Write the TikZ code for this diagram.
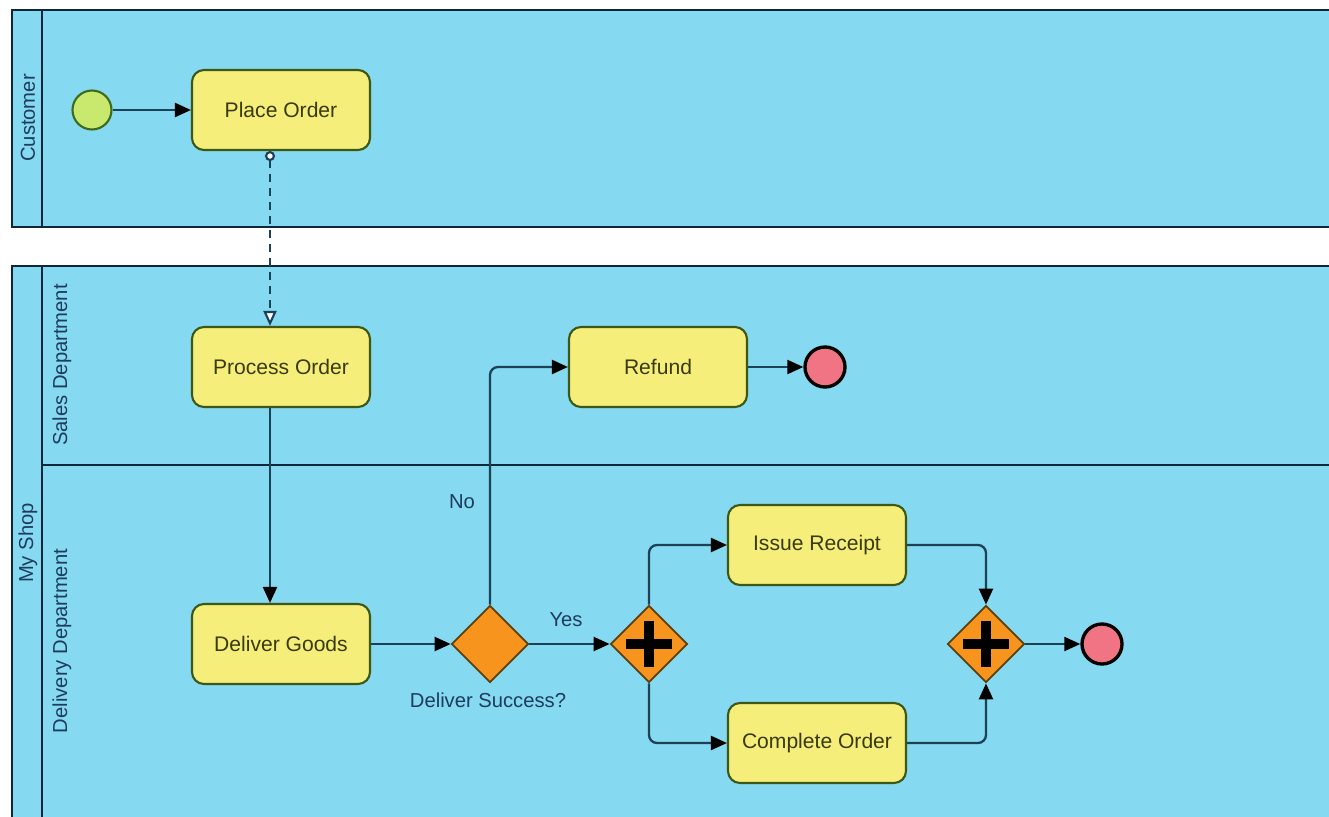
\documentclass[tikz,border=0pt]{standalone}
\usepackage{fontspec}
\setmainfont{Liberation Sans}
\usetikzlibrary{arrows.meta, positioning, calc, shapes.geometric}
\definecolor{poolc}{HTML}{85D9F0}
\definecolor{poolline}{HTML}{10263A}
\definecolor{taskc}{HTML}{F5EE7A}
\definecolor{taskline}{HTML}{3D5716}
\definecolor{gatec}{HTML}{F7941E}
\definecolor{gateline}{HTML}{5C4010}
\definecolor{startc}{HTML}{C8E86E}
\definecolor{startline}{HTML}{3E6A1C}
\definecolor{endc}{HTML}{F07484}
\definecolor{flowc}{HTML}{1C4258}
\definecolor{labc}{HTML}{1E3C5C}
\definecolor{txtc}{HTML}{3A3A0A}
\tikzset{
  pool/.style={draw=poolline, fill=poolc, line width=1.4pt},
  lane/.style={draw=poolline, line width=1.4pt},
  lname/.style={rotate=90, text=labc, font=\fontsize{11.5}{13}\selectfont},
  task/.style={draw=taskline, fill=taskc, line width=1.2pt, rounded corners=0.24cm,
               minimum width=3.56cm, minimum height=1.6cm, text=txtc,
               font=\fontsize{12}{14}\selectfont},
  gate/.style={diamond, aspect=1, draw=gateline, fill=gatec, line width=1pt,
               minimum width=1.54cm, minimum height=1.54cm, inner sep=0pt},
  pargate/.style={gate, path picture={
      \draw[black, line width=0.21cm] (path picture bounding box.center) ++(-0.46,0) -- ++(0.92,0)
        (path picture bounding box.center) ++(0,-0.46) -- ++(0,0.92);}},
  startev/.style={circle, draw=startline, fill=startc, line width=1.2pt, minimum size=0.78cm, inner sep=0pt},
  endev/.style={circle, draw=black, fill=endc, line width=1.9pt, minimum size=0.8cm, inner sep=0pt},
  flow/.style={draw=flowc, line width=1.3pt, rounded corners=0.16cm,
               -{Triangle[length=0.32cm, width=0.28cm, color=black]}},
  msg/.style={draw=flowc, line width=1.2pt, dash pattern=on 0.16cm off 0.12cm,
              {Circle[length=0.2cm, fill=white]}-{Triangle[length=0.3cm, width=0.26cm, fill=white]}},
  flab/.style={text=labc, font=\fontsize{11.5}{13}\selectfont},
}

\begin{document}
\begin{tikzpicture}[x=1cm, y=1cm]
  \useasboundingbox (0,0) rectangle (26.58,-16.34);
  \fill[white] (0,0) rectangle (26.58,-16.34);

  % ---------------- pools and lanes ----------------
  \draw[pool] (0.24,-0.2) rectangle (27,-4.54);
  \draw[lane] (0.84,-0.2) -- (0.84,-4.54);
  \draw[pool] (0.24,-5.32) rectangle (27,-16.8);
  \draw[lane] (0.84,-5.32) -- (0.84,-16.8);
  \draw[lane] (0.84,-9.3) -- (27,-9.3);
  \foreach \n/\x/\y/\t in {lcust/0.56/-2.36/Customer, lshop/0.56/-10.86/My Shop,
                           lsales/1.24/-7.3/Sales Department, ldeliv/1.24/-12.82/Delivery Department}
    \node[lname] (\n) at (\x,\y) {\t};

  % ---------------- events, tasks, gateways ----------------
  \node[startev] (start) at (1.84,-2.2) {};
  \foreach \n/\x/\y/\t in {placeorder/5.62/-2.2/Place Order, processorder/5.62/-7.34/Process Order,
                           delivergoods/5.62/-12.88/Deliver Goods, refund/13.16/-7.34/Refund,
                           issue/16.34/-10.9/Issue Receipt, complete/16.34/-14.86/Complete Order}
    \node[task] (\n) at (\x,\y) {\t};
  \node[gate] (xor) at (9.8,-12.88) {};
  \node[pargate] (fork) at (12.98,-12.88) {};
  \node[pargate] (join) at (19.72,-12.88) {};
  \node[endev] (endrefund) at (16.5,-7.34) {};
  \node[endev] (enddone) at (22.04,-12.88) {};

  % ---------------- labels ----------------
  \node[flab] (nolab) at (9.24,-10.04) {No};
  \node[flab] (yeslab) at (11.32,-12.4) {Yes};
  \node[flab] (xorlab) at (9.76,-14.0) {Deliver Success?};

  % ---------------- flows ----------------
  \draw[flow] (start) -- (placeorder);
  \draw[msg] ([xshift=-0.22cm]placeorder.south) -- ([xshift=-0.22cm]processorder.north);
  \draw[flow] ([xshift=-0.22cm]processorder.south) -- ([xshift=-0.22cm]delivergoods.north);
  \draw[flow] (delivergoods) -- (xor);
  \draw[flow] (xor.north) |- (refund.west);
  \draw[flow] (refund) -- (endrefund);
  \draw[flow] (xor) -- (fork);
  \draw[flow] (fork.north) |- (issue.west);
  \draw[flow] (fork.south) |- (complete.west);
  \draw[flow] (issue.east) -| (join.north);
  \draw[flow] (complete.east) -| (join.south);
  \draw[flow] (join) -- (enddone);
\end{tikzpicture}
\end{document}
